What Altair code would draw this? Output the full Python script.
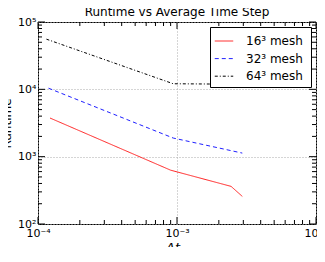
import altair as alt
import pandas as pd

# Data
series_names = ["16³  mesh", "32³  mesh", "64³  mesh"]
dt_16 = [1.22e-4, 9.0e-4, 2.45e-3, 2.95e-3]
rt_16 = [3750, 630, 362, 257]
dt_32 = [1.19e-4, 9.4e-4, 2.95e-3]
rt_32 = [10400, 1890, 1130]
dt_64 = [1.15e-4, 9.4e-4, 2.95e-3]
rt_64 = [55600, 12100, 11900]

x_major = [1e-4, 1e-3, 1e-2]
y_major = [1e2, 1e3, 1e4, 1e5]
x_minor = [m * d for d in [1e-4, 1e-3] for m in range(2, 10)]
y_minor = [m * d for d in [1e2, 1e3, 1e4] for m in range(2, 10)]

rows = []
for name, xs, ys in zip(series_names, [dt_16, dt_32, dt_64], [rt_16, rt_32, rt_64]):
    for i, (a, b) in enumerate(zip(xs, ys)):
        rows.append({"series": name, "dt": a, "rt": b, "order": i})
df = pd.DataFrame(rows)

W, H = 278, 202
FONT = "DejaVu Sans"

xscale = alt.Scale(type="log", domain=[1e-4, 1e-2], nice=False)
yscale = alt.Scale(type="log", domain=[1e2, 1e5], nice=False)

x_label_expr = "datum.value < 0.0005 ? '10⁻⁴' : datum.value < 0.005 ? '10⁻³' : '10⁻²'"
y_label_expr = ("datum.value < 500 ? '10²' : datum.value < 5000 ? '10³' : "
                "datum.value < 50000 ? '10⁴' : '10⁵'")

x_axis = alt.Axis(values=x_major, labelExpr=x_label_expr, title=None)
y_axis = alt.Axis(values=y_major, labelExpr=y_label_expr, title="Runtime")

lines = alt.Chart(df).mark_line(strokeWidth=1).encode(
    x=alt.X("dt:Q", scale=xscale, axis=x_axis),
    y=alt.Y("rt:Q", scale=yscale, axis=y_axis),
    color=alt.Color("series:N",
                    scale=alt.Scale(domain=series_names, range=["#ff2020", "#2020ff", "#000000"]),
                    legend=alt.Legend(title=None, orient="none", legendX=172, legendY=5,
                                      fillColor="white", strokeColor="black", padding=4,
                                      symbolType="stroke", symbolSize=340,
                                      symbolStrokeWidth=1, labelFontSize=12,
                                      labelFont=FONT, rowPadding=1.6, labelOffset=12)),
    strokeDash=alt.StrokeDash("series:N",
                              scale=alt.Scale(domain=series_names,
                                              range=[[1, 0], [4, 3], [3, 2, 1, 2]]),
                              legend=alt.Legend(title=None)),
    order="order:O",
)

def xticks(vals, ln):
    base = alt.Chart(pd.DataFrame({"dt": vals})).mark_rule(color="black", strokeWidth=1)
    xe = alt.X("dt:Q", scale=xscale, axis=x_axis)
    return [base.encode(x=xe, y=alt.value(H), y2=alt.value(H - ln)),
            base.encode(x=xe, y=alt.value(0), y2=alt.value(ln))]

def yticks(vals, ln):
    base = alt.Chart(pd.DataFrame({"rt": vals})).mark_rule(color="black", strokeWidth=1)
    ye = alt.Y("rt:Q", scale=yscale, axis=y_axis)
    return [base.encode(y=ye, x=alt.value(0), x2=alt.value(ln)),
            base.encode(y=ye, x=alt.value(W), x2=alt.value(W - ln))]

tick_layers = xticks(x_major, 7) + xticks(x_minor, 4) + yticks(y_major, 7) + yticks(y_minor, 4)

xt_main = alt.Chart(pd.DataFrame({"t": ["Δt"]})).mark_text(
    font=FONT, fontSize=13, fontStyle="italic", align="right", baseline="alphabetic"
).encode(text="t:N", x=alt.value(142), y=alt.value(H + 28))
xt_sub = alt.Chart(pd.DataFrame({"t": ["avg"]})).mark_text(
    font=FONT, fontSize=9, fontStyle="italic", align="left", baseline="alphabetic"
).encode(text="t:N", x=alt.value(142), y=alt.value(H + 31))

chart = alt.layer(lines, *tick_layers, xt_main, xt_sub).properties(
    width=W, height=H,
    title=alt.TitleParams("Runtime vs Average Time Step", font=FONT, fontSize=12,
                          fontWeight="normal", offset=-3, color="black"),
    padding={"left": -8, "top": -2, "right": -12, "bottom": -10},
).configure_view(stroke="black", strokeWidth=1).configure_axis(
    ticks=False, grid=True, gridDash=[1, 2], gridColor="#aaaaaa", domain=False,
    labelFontSize=11, labelFont=FONT, labelColor="black", labelFlush=False,
    titleFont=FONT, titleFontSize=12, titleFontWeight="normal", titleColor="black",
).configure_axisX(labelPadding=3).configure_axisY(labelPadding=2, titlePadding=4)

chart.save("out.html", embed_options={"renderer": "svg", "actions": False})
